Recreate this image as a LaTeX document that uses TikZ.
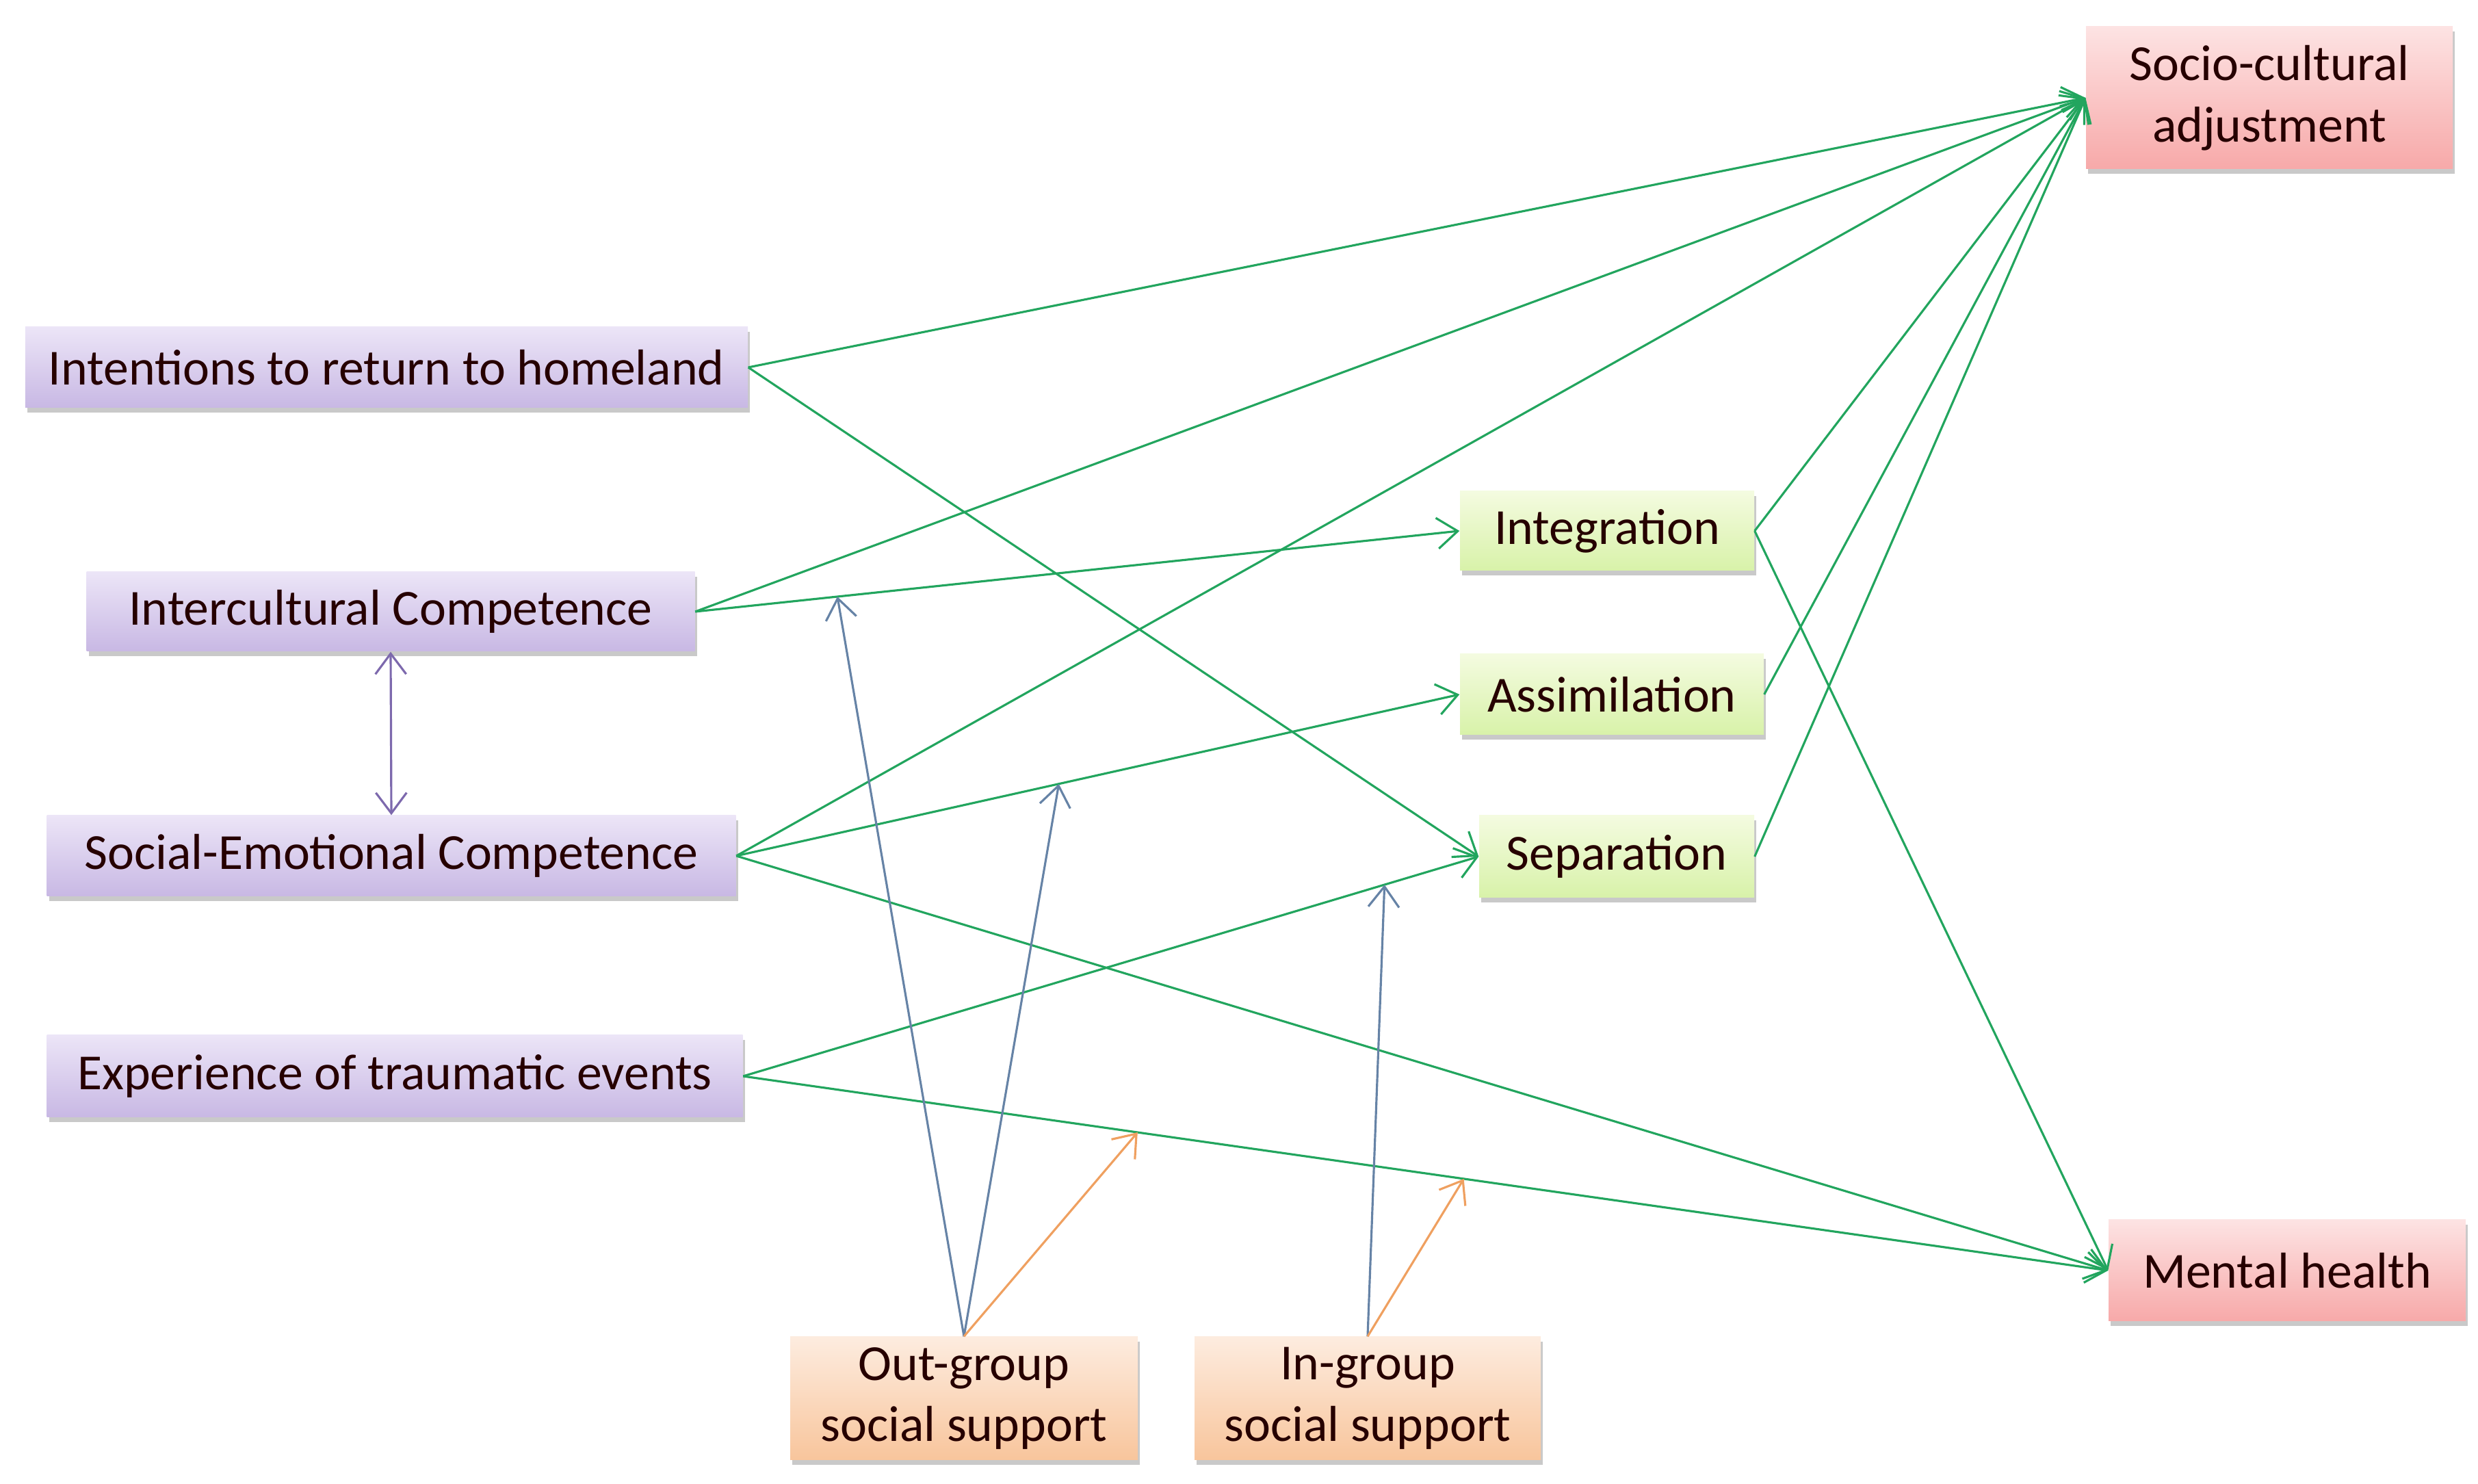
\documentclass[tikz,border=0pt]{standalone}
\usepackage{fontspec}
\setmainfont{Carlito}
\usetikzlibrary{arrows.meta,shadows}

\definecolor{purpleTop}{HTML}{ECE5F7}
\definecolor{purpleBot}{HTML}{C8B8E4}
\definecolor{redTop}{HTML}{FDE3E3}
\definecolor{redBot}{HTML}{F7A9A9}
\definecolor{greenTop}{HTML}{F4FBE0}
\definecolor{greenBot}{HTML}{D8F2A9}
\definecolor{orangeTop}{HTML}{FDECDF}
\definecolor{orangeBot}{HTML}{F8C59C}
\definecolor{edgeGreen}{HTML}{22A55E}
\definecolor{modBlue}{HTML}{6683A6}
\definecolor{modOrange}{HTML}{EFA060}
\definecolor{linkPurple}{HTML}{7D69AD}

\begin{document}
\begin{tikzpicture}[
		box_style/.style={rectangle, inner sep=0pt, align=center, text=black!85!red,
			font=\fontsize{21}{25.5}\selectfont,
			drop shadow={shadow xshift=0.03cm, shadow yshift=-0.07cm, opacity=0.3, fill=black!70}},
		box_purple/.style={box_style, top color=purpleTop, bottom color=purpleBot},
		box_red/.style={box_style, top color=redTop, bottom color=redBot},
		box_green/.style={box_style, top color=greenTop, bottom color=greenBot},
		box_orange/.style={box_style, top color=orangeTop, bottom color=orangeBot},
		edge_style/.style={draw=edgeGreen, line width=0.9pt, -{Straight Barb[length=3mm,width=4.5mm]}},
		mod_blue/.style={draw=modBlue, line width=0.9pt, -{Straight Barb[length=3mm,width=4.5mm]}},
		mod_orange/.style={draw=modOrange, line width=0.9pt, -{Straight Barb[length=3mm,width=4.5mm]}},
		link_style/.style={draw=linkPurple, line width=0.9pt, {Straight Barb[length=3mm,width=4.5mm]}-{Straight Barb[length=3mm,width=4.5mm]}}]

		\useasboundingbox (0,0) rectangle (36.22,21.69);

		% predictors
		\node[box_purple, minimum width=10.56cm, minimum height=1.18cm] (intent) at (5.65,16.32) {Intentions to return to homeland};
		\node[box_purple, minimum width=8.89cm, minimum height=1.16cm] (icc) at (5.71,12.75) {Intercultural Competence};
		\node[box_purple, minimum width=10.07cm, minimum height=1.18cm] (sec) at (5.72,9.18) {Social-Emotional Competence};
		\node[box_purple, minimum width=10.17cm, minimum height=1.20cm] (exp) at (5.77,5.96) {Experience of traumatic events};

		% acculturation strategies
		\node[box_green, minimum width=4.30cm, minimum height=1.16cm] (integ) at (23.49,13.93) {Integration};
		\node[box_green, minimum width=4.44cm, minimum height=1.18cm] (assim) at (23.56,11.54) {Assimilation};
		\node[box_green, minimum width=4.02cm, minimum height=1.20cm] (sep) at (23.63,9.17) {Separation};

		% outcomes
		\node[box_red, minimum width=5.36cm, minimum height=2.08cm] (soc) at (33.17,20.26) {Socio-cultural\\adjustment};
		\node[box_red, minimum width=5.22cm, minimum height=1.48cm] (mh) at (33.43,3.12) {Mental health};

		% moderators
		\node[box_orange, minimum width=5.08cm, minimum height=1.80cm] (outg) at (14.09,1.25) {Out-group\\social support};
		\node[box_orange, minimum width=5.06cm, minimum height=1.80cm] (ing) at (19.99,1.25) {In-group\\social support};

		\draw[link_style] (icc.south) -- (sec.north);

		\draw[edge_style] (intent.east) -- (soc.west);
		\draw[edge_style] (intent.east) -- (sep.west);
		\draw[edge_style] (icc.east) -- (soc.west);
		\draw[edge_style] (icc.east) -- coordinate[pos=0.186] (m1) (integ.west);
		\draw[edge_style] (sec.east) -- (soc.west);
		\draw[edge_style] (sec.east) -- coordinate[pos=0.446] (m2) (assim.west);
		\draw[edge_style] (sec.east) -- (mh.west);
		\draw[edge_style] (exp.east) -- coordinate[pos=0.872] (m3) (sep.west);
		\draw[edge_style] (exp.east) -- coordinate[pos=0.289] (m4) coordinate[pos=0.528] (m5) (mh.west);
		\draw[edge_style] (integ.east) -- (soc.west);
		\draw[edge_style] (assim.east) -- (soc.west);
		\draw[edge_style] (sep.east) -- (soc.west);
		\draw[edge_style] (integ.east) -- (mh.west);

		\draw[mod_blue] (outg.north) -- (m1);
		\draw[mod_blue] (outg.north) -- (m2);
		\draw[mod_orange] (outg.north) -- (m4);
		\draw[mod_blue] (ing.north) -- (m3);
		\draw[mod_orange] (ing.north) -- (m5);
\end{tikzpicture}
\end{document}
